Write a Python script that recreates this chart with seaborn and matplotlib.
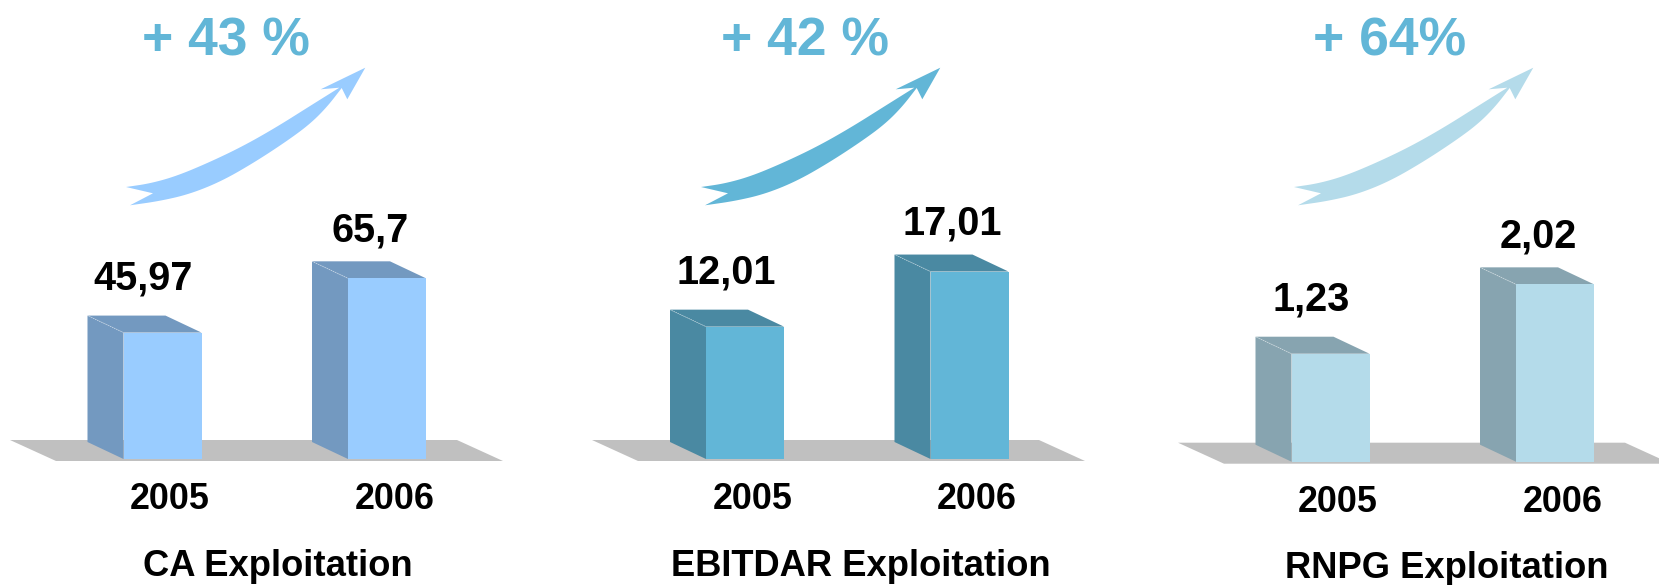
import numpy as np
import seaborn as sns
import matplotlib
matplotlib.use("Agg")
import matplotlib.pyplot as plt
from matplotlib.patches import Polygon
from matplotlib.transforms import Affine2D, IdentityTransform, ScaledTranslation

YEARS = ["2005", "2006"]
CA_VALUES = [45.97, 65.7]
EBITDAR_VALUES = [12.01, 17.01]
RNPG_VALUES = [1.23, 2.02]
TITLES = ["CA Exploitation", "EBITDAR Exploitation", "RNPG Exploitation"]
GROWTH = ["+ 43 %", "+ 42 %", "+ 64%"]

FRONT_COLORS = ["#99CCFF", "#62B6D7", "#B4DBEA"]
SIDE_COLORS = ["#7399C0", "#4A89A2", "#87A4B0"]
FLOOR_COLOR = "#C0C0C0"
GROWTH_COLOR = "#62B6D7"

W, H = 1659, 585
DPI = 100
DEPTH_X, DEPTH_Y = 36, 17
BAR_SPACING = 224.5
BAR_WIDTH = 78 / BAR_SPACING
LABEL_OFFSETS = [(-19, 54), (-17, 48)]

# px layout of each panel: first bar centre, base line, px per unit, floor left, arrow shift, text centres
PANELS = [
    dict(c=162.5, base=459, scale=2.75, floor=10, shift=0, growth=226, title=(278, 566)),
    dict(c=745, base=459, scale=11.02, floor=592, shift=575, growth=805, title=(861, 566)),
    dict(c=1330.5, base=461.7, scale=87.8, floor=1178, shift=1168, growth=1390, title=(1447, 568)),
]

# outline of the swoosh arrow of the first panel, in px: tail, lower edge, head, upper edge
ARROW_LOWER = [(130, 205.3), (160, 201), (190, 194), (222, 181), (255, 162), (287, 141), (310, 124), (327, 107), (341.7, 88)]
ARROW_HEAD = [(347.3, 99.3), (365.3, 67.7), (320.7, 89.3)]
ARROW_UPPER = [(339.3, 87.7), (310, 106), (276.7, 127), (243.3, 146), (210, 162), (176.7, 176), (150, 183.5), (126, 187)]
ARROW_NOTCH = [(153, 193.3)]


def smooth(points, rounds=3):
    # corner cutting, keeps both ends of the edge
    pts = np.array(points, dtype=float)
    for _ in range(rounds):
        q = 0.75 * pts[:-1] + 0.25 * pts[1:]
        r = 0.25 * pts[:-1] + 0.75 * pts[1:]
        mid = np.empty((len(q) * 2, 2))
        mid[0::2] = q
        mid[1::2] = r
        pts = np.vstack([pts[0], mid, pts[-1]])
    return pts


ARROW = np.vstack([smooth(ARROW_LOWER), ARROW_HEAD, smooth(ARROW_UPPER), ARROW_NOTCH])

sns.set_theme(style="white")
plt.rcParams["font.family"] = ["Liberation Sans", "DejaVu Sans"]
plt.rcParams["font.weight"] = "bold"

fig = plt.figure(figsize=(W / DPI, H / DPI), dpi=DPI)
fig_px = Affine2D().scale(1 / W, -1 / H).translate(0, 1) + fig.transFigure


def draw_panel(i, values):
    p = PANELS[i]
    left = p["c"] - 170
    right = min(p["c"] + BAR_SPACING + 170, W)
    ax = fig.add_axes([left / W, 1 - p["base"] / H, (right - left) / W, p["base"] / H])
    ax.patch.set_visible(False)

    sns.barplot(x=YEARS, y=values, color=FRONT_COLORS[i], saturation=1, width=BAR_WIDTH,
                linewidth=0, ax=ax, zorder=3)
    ax.set_xlim((left - p["c"]) / BAR_SPACING, (right - p["c"]) / BAR_SPACING)
    ax.set_ylim(0, p["base"] / p["scale"])
    ax.set_yticks([])
    sns.despine(ax=ax, left=True, bottom=True)

    # floor under the bars
    fl = p["floor"]
    base = p["base"]
    ax.add_patch(Polygon([(fl, base - 19), (fl + 447, base - 19), (fl + 493, base + 2), (fl + 46, base + 2)],
                         transform=fig_px, color=FLOOR_COLOR, lw=0, zorder=0, clip_on=False))

    # fake 3d faces from the bars seaborn drew
    for j, (bar, value) in enumerate(zip(ax.patches[:len(values)], values)):
        x0 = bar.get_x()
        x1 = x0 + bar.get_width()
        (ax0, ay0), (ax1, ay1) = ax.transData.transform([(x0, 0), (x1, value)])
        side = [(ax0, ay0), (ax0, ay1), (ax0 - DEPTH_X, ay1 + DEPTH_Y), (ax0 - DEPTH_X, ay0 + DEPTH_Y)]
        top = [(ax0, ay1), (ax1, ay1), (ax1 - DEPTH_X, ay1 + DEPTH_Y), (ax0 - DEPTH_X, ay1 + DEPTH_Y)]
        for face in (side, top):
            ax.add_patch(Polygon(face, transform=IdentityTransform(), color=SIDE_COLORS[i], lw=0,
                                 zorder=2, clip_on=False))
        ax.plot([ax0 - DEPTH_X, ax0], [ay1 + DEPTH_Y, ay1], transform=IdentityTransform(),
                color="white", lw=0.5, alpha=0.5, ls=(0, (2, 1)), zorder=2.5)
        ax.annotate(f"{value}".replace(".", ","), (bar.get_x() + bar.get_width() / 2, value),
                    xytext=LABEL_OFFSETS[j], textcoords="offset pixels", ha="center", va="center",
                    fontsize=28.5, fontweight="bold", color="black")

    ax.tick_params(axis="x", length=0, pad=16.5, labelsize=25.8, labelcolor="black")
    shift = ScaledTranslation(7.5 / DPI, 0, fig.dpi_scale_trans)
    for label in ax.get_xticklabels():
        label.set_transform(label.get_transform() + shift)
        label.set_fontweight("bold")

    ax.set_xlabel(TITLES[i], fontsize=26.2, fontweight="bold", color="black", va="center", ha="center")
    ax.xaxis.set_label_coords(*p["title"], transform=fig_px)

    ax.add_patch(Polygon(ARROW + (p["shift"], 0), transform=fig_px, color=FRONT_COLORS[i], lw=0,
                         zorder=2, clip_on=False))
    ax.text(p["growth"], 42, GROWTH[i], transform=fig_px, fontsize=38.5, fontweight="bold",
            color=GROWTH_COLOR, ha="center", va="center")


draw_panel(0, CA_VALUES)
draw_panel(1, EBITDAR_VALUES)
draw_panel(2, RNPG_VALUES)

fig.savefig("out.png", dpi=DPI, facecolor="white")
